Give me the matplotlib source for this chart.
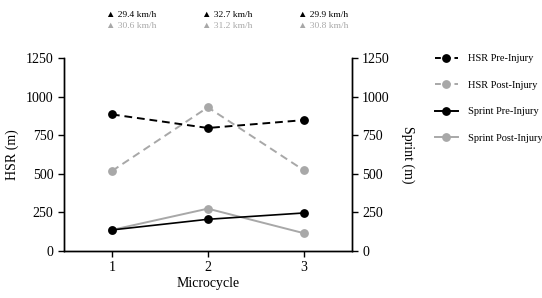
import matplotlib.pyplot as plt
from matplotlib.lines import Line2D

plt.rcParams["font.family"] = ["Liberation Serif", "DejaVu Serif"]

microcycle = [1, 2, 3]
hsr_pre = [885, 797, 848]
hsr_post = [518, 931, 523]
sprint_pre = [136, 205, 246]
sprint_post = [136, 274, 115]
speed_pre = ["29.4 km/h", "32.7 km/h", "29.9 km/h"]
speed_post = ["30.6 km/h", "31.2 km/h", "30.8 km/h"]
y_ticks = [0, 250, 500, 750, 1000, 1250]

black = "#000000"
grey = "#a8a8a8"

fig = plt.figure(figsize=(5.42, 2.98), dpi=100)
ax = fig.add_axes([0.118, 0.158, 0.531, 0.647])
ax2 = ax.twinx()

ax.plot(microcycle, hsr_post, "--o", color=grey, lw=1.4, ms=5.3, dashes=(4, 2.5))
ax.plot(microcycle, hsr_pre, "--o", color=black, lw=1.4, ms=5.3, dashes=(4, 2.5))
ax2.plot(microcycle, sprint_post, "-o", color=grey, lw=1.4, ms=5.3)
ax2.plot(microcycle, sprint_pre, "-o", color=black, lw=1.2, ms=5.3)

for a in (ax, ax2):
    a.set_ylim(0, 1250)
    a.set_yticks(y_ticks)
    a.spines["top"].set_visible(False)
    a.tick_params(direction="out", length=4, width=1, labelsize=10)
    for s in a.spines.values():
        s.set_linewidth(1)
ax.set_xlim(0.5, 3.5)
ax.set_xticks(microcycle)
ax.set_xlabel("Microcycle", fontsize=10, labelpad=2)
ax.set_ylabel("HSR (m)", fontsize=10, labelpad=5)
ax2.set_ylabel("Sprint (m)", fontsize=10, rotation=270, labelpad=18)

for x, pre, post in zip(microcycle, speed_pre, speed_post):
    ax.annotate("\u25B2 " + pre, xy=(x, 1), xycoords=("data", "figure fraction"),
                xytext=(-4, -14), textcoords="offset points", fontsize=6.8,
                color=black, ha="left", va="bottom", family=["Liberation Serif", "DejaVu Sans"])
    ax.annotate("\u25B2 " + post, xy=(x, 1), xycoords=("data", "figure fraction"),
                xytext=(-4, -21.5), textcoords="offset points", fontsize=6.8,
                color=grey, ha="left", va="bottom", family=["Liberation Serif", "DejaVu Sans"])

handles = [
    Line2D([], [], color=black, ls="--", marker="o", lw=1.4, ms=5.3, dashes=(3, 2)),
    Line2D([], [], color=grey, ls="--", marker="o", lw=1.4, ms=5.3, dashes=(3, 2)),
    Line2D([], [], color=black, ls="-", marker="o", lw=1.4, ms=5.3),
    Line2D([], [], color=grey, ls="-", marker="o", lw=1.4, ms=5.3),
]
labels = ["HSR Pre-Injury", "HSR Post-Injury", "Sprint Pre-Injury", "Sprint Post-Injury"]
fig.legend(handles, labels, loc="upper left", bbox_to_anchor=(0.785, 0.85), frameon=False,
           fontsize=7.5, handlelength=2.2, labelspacing=1.65, handletextpad=1.0)

fig.savefig("out.png", dpi=100)
